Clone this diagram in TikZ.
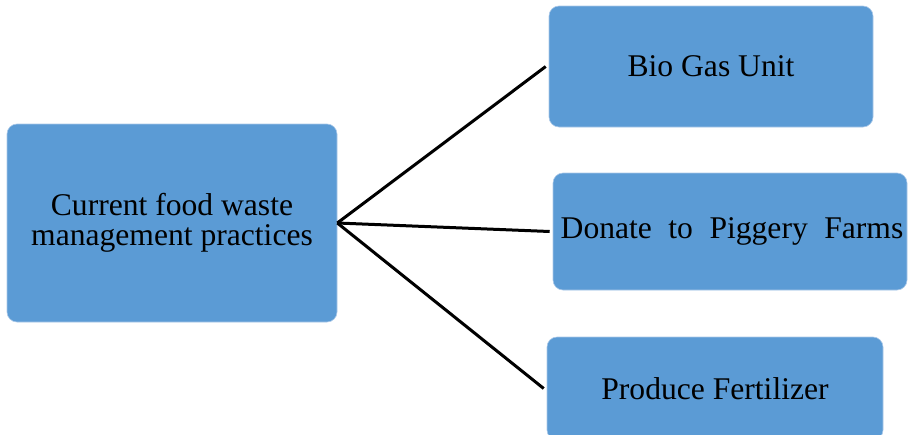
\documentclass[tikz,border=0pt]{standalone}
\usepackage{fontspec}
\setmainfont{Liberation Serif}
\definecolor{boxblue}{RGB}{91,155,213}
\definecolor{boxedge}{RGB}{170,200,232}
\begin{document}
\begin{tikzpicture}[x=1pt,y=-1pt,
  box/.style={rectangle, rounded corners=10pt, fill=boxblue, draw=boxedge, line width=0.6pt,
    inner sep=0pt, align=center, font=\fontsize{31.6}{30}\selectfont, text=black},
  conn/.style={line width=3pt, black}]
\useasboundingbox (0,0) rectangle (908,434);
\node[box, minimum width=330pt, minimum height=198pt] (left) at (172,223)
  {Current food waste\\management practices};
\node[box, minimum width=324pt, minimum height=121pt] (bio) at (711,66.5) {Bio Gas Unit};
\node[box, minimum width=354pt, minimum height=117pt] (donate) at (730,231.5)
  {\hspace{4pt}Donate\hspace{16.5pt}to\hspace{16.5pt}Piggery\hspace{16.5pt}Farms};
\node[box, minimum width=336pt, minimum height=103pt] (fert) at (715,388.5) {Produce Fertilizer};
\draw[conn] (left.east) -- ([xshift=-3pt]bio.west);
\draw[conn] (left.east) -- ([xshift=-3pt]donate.west);
\draw[conn] (left.east) -- ([xshift=-3pt]fert.west);
\end{tikzpicture}
\end{document}
